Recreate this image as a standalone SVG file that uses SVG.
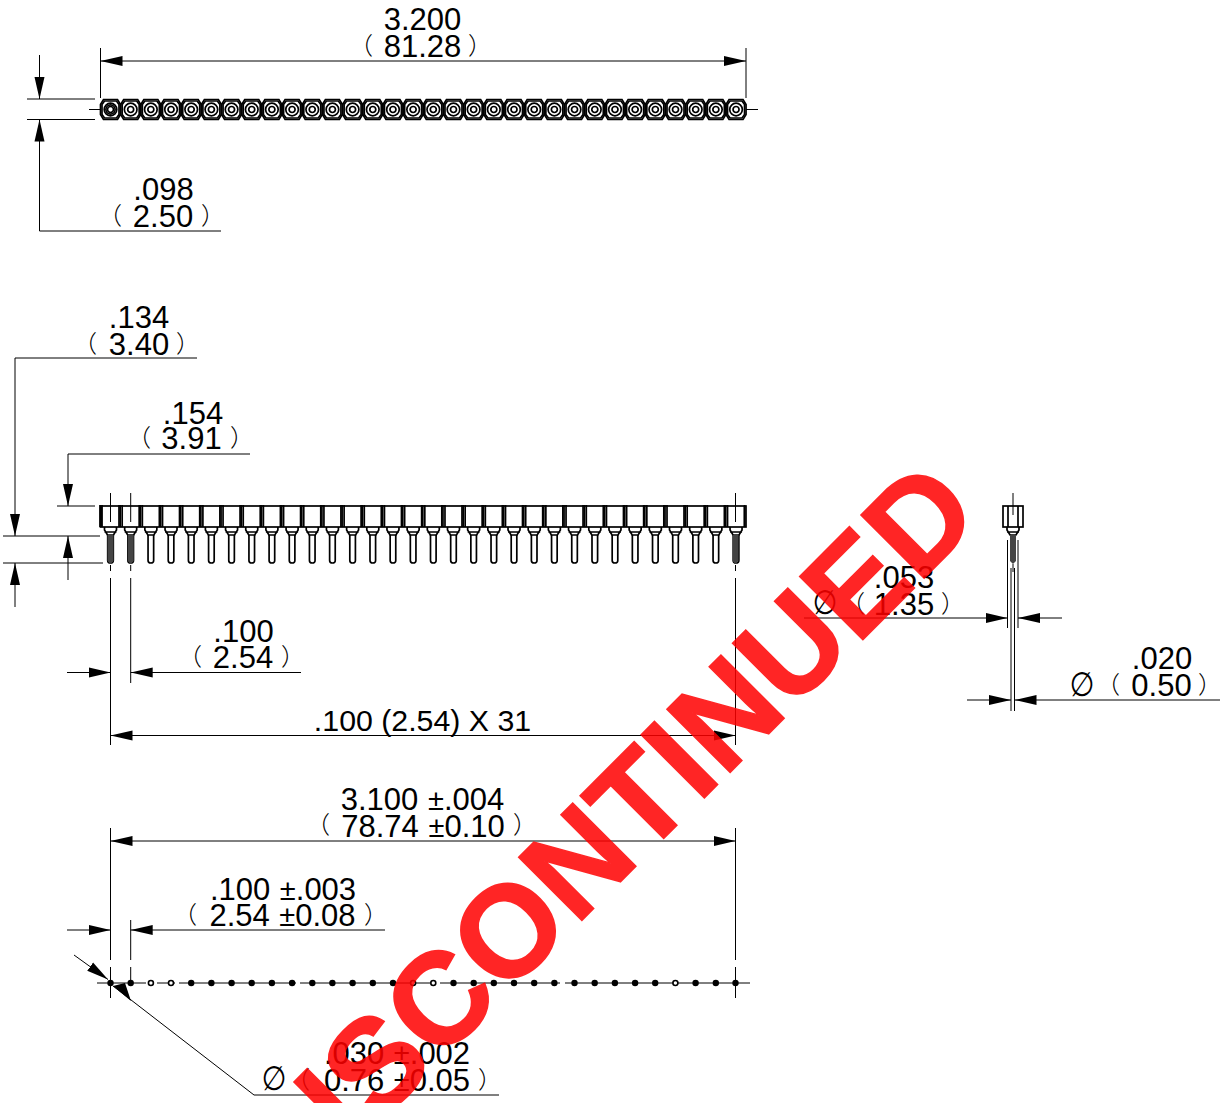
<svg xmlns="http://www.w3.org/2000/svg" xmlns:xlink="http://www.w3.org/1999/xlink" width="1225" height="1103" viewBox="0 0 1225 1103">
<style>
text{font-family:"Liberation Sans",Arial,sans-serif;font-size:31px;fill:#000;text-anchor:middle}
.p{font-family:"Noto Sans CJK SC","Noto Sans",sans-serif;font-size:24px;font-weight:300}
.o{font-family:"DejaVu Sans",sans-serif;font-size:30px}
.m{word-spacing:1px}
.m tspan{font-size:29px}
.l{fill:none;stroke:#000;stroke-width:1}
.a{marker-start:url(#ah);marker-end:url(#ah)}
.e{marker-end:url(#ah)}
.s{fill:none;stroke:#000;stroke-width:1.700}
.w{font-weight:bold;font-size:130px;fill:#f00;stroke:#f00;stroke-width:1.500;opacity:.85;text-anchor:start}
</style>
<defs>
<marker id="ah" markerUnits="userSpaceOnUse" markerWidth="24" markerHeight="12" refX="22" refY="6" orient="auto-start-reverse"><path d="M0,1L22,6L0,11z" fill="#000"/></marker>
<g id="t1"><path class="s" d="M-10,-5L-7,-10L7,-10L10,-5L10,5L7,10L-7,10L-10,5Z"/><path class="s" d="M-8.500,-5L-6,-8.500L6,-8.500L8.500,-5L8.500,5L6,8.500L-6,8.500L-8.500,5Z"/><circle class="s" r="6.300"/><circle class="s" r="3"/></g>
<g id="t8"><use href="#t1"/><use href="#t1" x="20.18"/><use href="#t1" x="40.35"/><use href="#t1" x="60.53"/><use href="#t1" x="80.71"/><use href="#t1" x="100.89"/><use href="#t1" x="121.06"/><use href="#t1" x="141.24"/></g>
<g id="c1"><path class="s" d="M-10.500,-1V21M-8.500,-1V21M8.500,-1V21"/><path class="s" d="M-6,21V24L-3,29H3L6,24V21M-6,26H6"/><path class="s" d="M-2.800,29V54.500Q-2.800,57 0,57Q2.800,57 2.800,54.500V29"/></g>
<g id="c8"><use href="#c1"/><use href="#c1" x="20.18"/><use href="#c1" x="40.35"/><use href="#c1" x="60.53"/><use href="#c1" x="80.71"/><use href="#c1" x="100.89"/><use href="#c1" x="121.06"/><use href="#c1" x="141.24"/></g>
<circle id="d" r="3.200" fill="#000"/>
<circle id="h" r="2.500" fill="#fff" stroke="#000" stroke-width="1.600"/>
</defs>
<g id="top-view">
<use href="#t8" x="110.500" y="109.500"/><use href="#t8" x="271.900" y="109.500"/><use href="#t8" x="433.300" y="109.500"/><use href="#t8" x="594.800" y="109.500"/>
<circle class="s" cx="110.500" cy="109.500" r="4.600"/>
</g>
<g id="front-view">
<rect class="s" x="100.500" y="506" width="645.500" height="21"/>
<path class="s" d="M101.500,506V527M744.500,506V527"/>
<use href="#c8" x="110.500" y="506"/><use href="#c8" x="271.900" y="506"/><use href="#c8" x="433.300" y="506"/><use href="#c8" x="594.800" y="506"/>
<path d="M107.500,535H113.500V561L110.500,564L107.500,561ZM127.700,535H133.700V561L130.700,564L127.700,561ZM732.500,535H738.500V561L735.500,564L732.500,561Z" fill="#444"/>
</g>
<g id="side-view">
<rect class="s" x="1003" y="506" width="20" height="21"/>
<path class="s" d="M1008,506V527M1018,506V527"/>
<path class="s" d="M1007,527V530L1010,535H1016L1019,530V527M1007,532H1019"/>
<path d="M1010,535H1016V561L1013,564L1010,561Z" fill="#444"/>
</g>
<g id="holes">
<path class="l" d="M97,983H146M157,983H175M179,983H296M300,983H430M440,983H560M565,983H750"/>
<use href="#d" x="110.500" y="983"/><use href="#d" x="130.700" y="983"/><use href="#h" x="150.900" y="983"/><use href="#h" x="171" y="983"/><use href="#d" x="191.200" y="983"/><use href="#d" x="211.400" y="983"/><use href="#d" x="231.600" y="983"/><use href="#d" x="251.700" y="983"/><use href="#d" x="271.900" y="983"/><use href="#d" x="292.100" y="983"/><use href="#d" x="312.300" y="983"/><use href="#d" x="332.400" y="983"/><use href="#d" x="352.600" y="983"/><use href="#d" x="372.800" y="983"/><use href="#d" x="393" y="983"/><use href="#h" x="413.100" y="983"/><use href="#h" x="433.300" y="983"/><use href="#d" x="453.500" y="983"/><use href="#d" x="473.700" y="983"/><use href="#d" x="493.800" y="983"/><use href="#d" x="514" y="983"/><use href="#d" x="534.200" y="983"/><use href="#d" x="554.400" y="983"/><use href="#d" x="574.500" y="983"/><use href="#d" x="594.700" y="983"/><use href="#d" x="614.900" y="983"/><use href="#d" x="635.100" y="983"/><use href="#d" x="655.200" y="983"/><use href="#h" x="675.400" y="983"/><use href="#d" x="695.600" y="983"/><use href="#d" x="715.800" y="983"/><use href="#d" x="735.500" y="983"/>
</g>
<g id="connectors">
<path class="l" d="M100.500,48V98M746,48V98M89,109.500H101M746,109.500H758M27,99H95M27,119.500H95M39.500,140V231H221"/>
<line class="l a" x1="100.500" y1="61" x2="746" y2="61"/>
<line class="l e" x1="39.500" y1="55" x2="39.500" y2="99"/>
<line class="l e" x1="39.500" y1="140" x2="39.500" y2="119.500"/>
<path class="l" d="M197,358H15V515M15,584V607M3,536H100M3,563H103M250,454H68V486M68,557V580M57,506H95"/>
<line class="l e" x1="15" y1="515" x2="15" y2="536"/>
<line class="l e" x1="15" y1="584" x2="15" y2="563"/>
<line class="l e" x1="68" y1="486" x2="68" y2="506"/>
<line class="l e" x1="68" y1="557" x2="68" y2="536"/>
<path class="l" d="M110.500,493V522M130.700,493V522M735.500,493V522M110.500,565V571M130.700,565V571M735.500,565V571M110.500,578V745M130.700,578V683M735.500,578V745"/>
<line class="l e" x1="67" y1="672.500" x2="110.500" y2="672.500"/>
<line class="l e" x1="301" y1="672.500" x2="130.700" y2="672.500"/>
<line class="l a" x1="110.500" y1="735.500" x2="735.500" y2="735.500"/>
<path class="l" d="M110.500,828V960M735.500,828V960M130.700,920V960M110.500,967V998M130.700,967V985M735.500,967V998"/>
<line class="l a" x1="110.500" y1="841" x2="735.500" y2="841"/>
<line class="l e" x1="67" y1="930" x2="110.500" y2="930"/>
<line class="l e" x1="385" y1="930" x2="130.700" y2="930"/>
<line class="l e" x1="74" y1="955" x2="108" y2="979.500"/>
<path class="l" d="M113,986L254,1095H499"/>
<line class="l" x1="1013" y1="493" x2="1013" y2="515"/>
<path class="l" d="M1007.500,540V628M1018,540V628M1011,568V711M1014.500,568V711M1013,564V572"/>
<line class="l e" x1="804" y1="618" x2="1007.500" y2="618"/>
<line class="l e" x1="1062" y1="618" x2="1018" y2="618"/>
<line class="l e" x1="967" y1="700" x2="1011" y2="700"/>
<line class="l e" x1="1220" y1="700" x2="1014.500" y2="700"/>
<path d="M131,1001L113,986L125,983Z" fill="#000"/>
</g>
<g id="labels" transform="translate(0 .5)">
<text x="422.500" y="29">3.200</text><text x="422.500" y="56">81.28</text><text class="p" x="361" y="53">（</text><text class="p" x="480" y="53">）</text>
<text x="163.500" y="199">.098</text><text x="163" y="226">2.50</text><text class="p" x="110" y="223">（</text><text class="p" x="213" y="223">）</text>
<text x="139" y="327">.134</text><text x="139" y="354">3.40</text><text class="p" x="85" y="351">（</text><text class="p" x="188" y="351">）</text>
<text x="193" y="423">.154</text><text x="191.500" y="448">3.91</text><text class="p" x="139" y="445">（</text><text class="p" x="242" y="445">）</text>
<text x="243.500" y="641">.100</text><text x="243" y="667">2.54</text><text class="p" x="190" y="664">（</text><text class="p" x="293" y="664">）</text>
<text x="422.500" y="730" style="font-size:30.300px">.100 (2.54) X 31</text>
<text class="m" x="422.500" y="809">3.100 <tspan>±</tspan>.004</text><text class="m" x="423" y="836">78.74 <tspan>±</tspan>0.10</text><text class="p" x="318" y="832">（</text><text class="p" x="525" y="832">）</text>
<text class="m" x="283" y="899">.100 <tspan>±</tspan>.003</text><text class="m" x="282.500" y="925">2.54 <tspan>±</tspan>0.08</text><text class="p" x="185" y="922">（</text><text class="p" x="376" y="922">）</text>
<text class="m" x="397" y="1063">.030 <tspan>±</tspan>.002</text><text class="m" x="397" y="1090">0.76 <tspan>±</tspan>0.05</text><text class="p" x="298" y="1087">（</text><text class="p" x="490" y="1087">）</text><text class="o" transform="translate(274 1089) scale(.95 1.12)" x="0" y="0">∅</text>
<text x="904" y="587">.053</text><text x="904" y="614">1.35</text><text class="p" x="853" y="611">（</text><text class="p" x="953" y="611">）</text><text class="o" transform="translate(825 613) scale(.95 1.12)" x="0" y="0">∅</text>
<text x="1162" y="668">.020</text><text x="1161.500" y="695">0.50</text><text class="p" x="1108" y="692">（</text><text class="p" x="1210" y="692">）</text><text class="o" transform="translate(1082 695) scale(.95 1.12)" x="0" y="0">∅</text>
</g>
<text class="w" transform="translate(284.700 1217.600) rotate(-45)">DISCONTINUED</text>
</svg>
